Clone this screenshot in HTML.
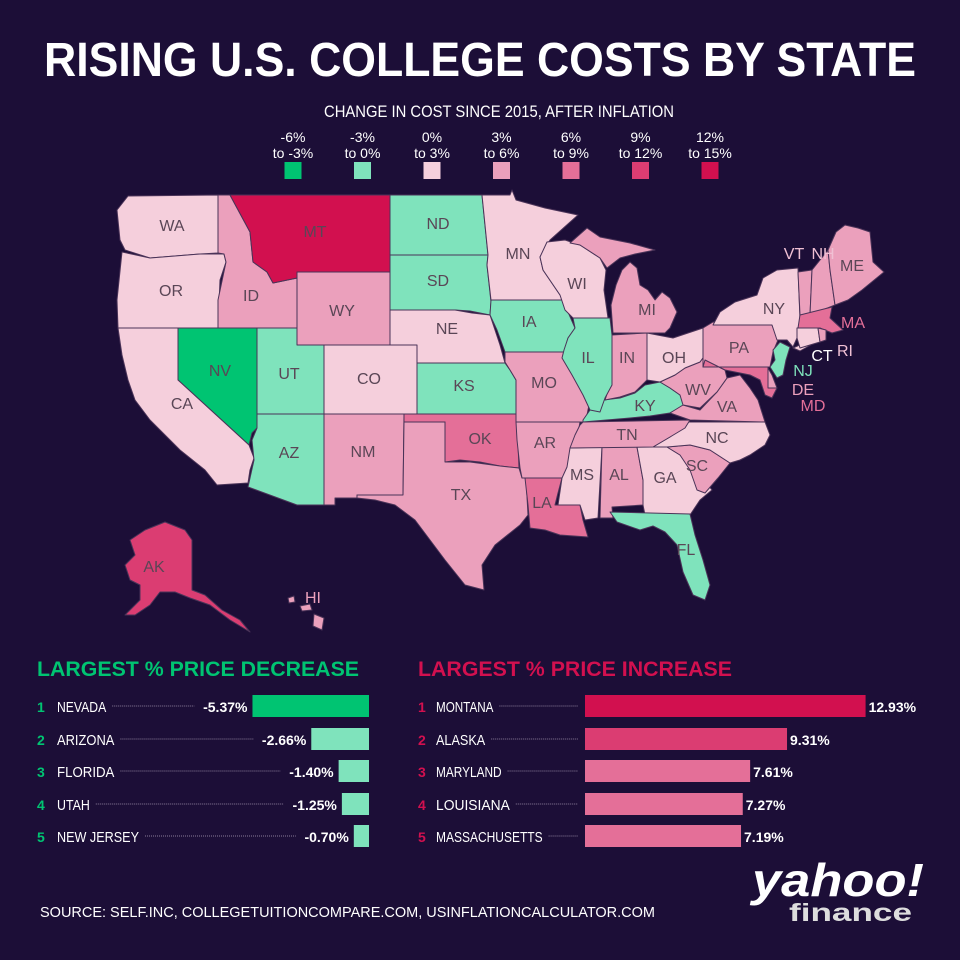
<!DOCTYPE html>
<html><head><meta charset="utf-8"><style>
html,body{margin:0;padding:0;background:#1c0e37;}
svg{display:block;font-family:"Liberation Sans",sans-serif;}
</style></head><body>
<svg id="chart" width="960" height="960" viewBox="0 0 960 960">
<rect width="960" height="960" fill="#1c0e37"/>
<text x="480" y="76" text-anchor="middle" fill="#fff" font-weight="bold" font-size="48" textLength="872" lengthAdjust="spacingAndGlyphs">RISING U.S. COLLEGE COSTS BY STATE</text>
<text x="499" y="117" text-anchor="middle" fill="#fff" font-size="17" textLength="350" lengthAdjust="spacingAndGlyphs">CHANGE IN COST SINCE 2015, AFTER INFLATION</text>
<g id="legend"></g>
<g id="map"></g>
<g id="labels"></g>
<text x="37" y="676" fill="#00c472" font-weight="bold" font-size="21" textLength="322" lengthAdjust="spacingAndGlyphs">LARGEST % PRICE DECREASE</text>
<text x="418" y="676" fill="#d2104f" font-weight="bold" font-size="21" textLength="314" lengthAdjust="spacingAndGlyphs">LARGEST % PRICE INCREASE</text>
<g id="bars"></g>
<text x="40" y="917" fill="#fff" font-size="15" textLength="615" lengthAdjust="spacingAndGlyphs">SOURCE:  SELF.INC, COLLEGETUITIONCOMPARE.COM, USINFLATIONCALCULATOR.COM</text>
<text x="752" y="896" fill="#fff" font-weight="bold" font-size="46" font-style="italic" textLength="172" lengthAdjust="spacingAndGlyphs">yahoo!</text>
<text x="789" y="921" fill="#ddd" font-weight="bold" font-size="25" textLength="123" lengthAdjust="spacingAndGlyphs">finance</text>
</svg>
<script>
const NS='http://www.w3.org/2000/svg';
const binColors=['#00c472','#7fe3bc','#f5cfdc','#eba0bc','#e46f98','#db3d72','#d2104f'];
const binLabels1=['-6%','-3%','0%','3%','6%','9%','12%'];
const binLabels2=['to -3%','to 0%','to 3%','to 6%','to 9%','to 12%','to 15%'];
const decNames=['NEVADA','ARIZONA','FLORIDA','UTAH','NEW JERSEY'];
const decValues=[-5.37,-2.66,-1.40,-1.25,-0.70];
const incNames=['MONTANA','ALASKA','MARYLAND','LOUISIANA','MASSACHUSETTS'];
const incValues=[12.93,9.31,7.61,7.27,7.19];
const stateCodes=['WA','OR','ID','MT','WY','NV','CA','UT','AZ','CO','NM','OK','TX','ND','SD','NE','KS','MN','IA','MO','AR','LA','MS','AL','GA','FL','SC','NC','TN','KY','VA','WV','OH','IN','IL','WI','MI','MIU','PA','NY','LI','NJ','DE','MD','VT','NH','ME','MA','CT','RI','AK','HI1','HI2','HI3'];
const stateBins=[2,2,3,6,3,0,2,1,1,2,3,4,3,1,1,2,1,2,1,3,3,4,2,3,2,1,3,2,3,1,3,3,2,3,1,2,3,3,3,2,2,1,3,4,3,3,3,4,2,3,5,3,3,3];
const shapes={
WA:'117,210 128,196 218,195 218,253 200,254 150,258 125,250 120,240',
OR:'122,252 150,258 200,254 224,254 226,262 220,280 218,328 118,328 117,300',
ID:'218,195 230,195 250,232 253,262 267,272 273,283 297,278 297,328 218,328 218,300 226,262 224,254 218,253',
MT:'230,195 390,195 390,272 297,272 297,278 273,283 267,272 253,262 250,232',
WY:'297,272 390,272 390,345 297,345',
NV:'178,328 257,328 257,428 252,433 249,445 178,380',
CA:'118,328 178,328 178,380 249,445 254,458 250,470 248,483 217,485 205,470 180,450 150,420 135,400 128,380 122,355',
UT:'257,328 297,328 297,345 324,345 324,414 257,414',
AZ:'257,414 324,414 324,505 297,505 248,487 254,460 252,440 257,428',
CO:'324,345 417,345 417,414 324,414',
NM:'324,414 404,414 403,495 357,495 358,498 335,498 335,505 324,505',
OK:'404,414 516,414 517,420 519,468 500,466 480,462 460,460 445,462 445,422 404,422',
TX:'404,422 445,422 445,462 470,462 500,466 519,468 522,478 526,478 528,515 520,525 495,545 482,565 484,590 465,585 445,560 430,540 415,520 395,505 375,500 357,498 357,495 403,495',
ND:'390,195 482,195 485,225 488,255 390,255',
SD:'390,255 488,255 487,265 491,302 490,315 470,311 455,310 390,310',
NE:'390,310 455,310 472,313 490,315 495,330 500,345 505,363 417,363 417,345 390,345',
KS:'417,363 505,363 510,370 516,380 516,414 417,414',
MN:'482,195 510,195 512,190 516,200 545,208 578,215 550,240 540,257 543,270 560,295 563,300 491,300 487,265 488,255 485,225',
IA:'491,300 563,300 568,312 575,328 568,338 564,352 505,352 497,330 490,315',
MO:'505,352 564,352 570,365 580,385 590,400 587,415 585,422 516,422 516,380 510,370 505,362',
AR:'516,422 580,422 577,440 572,450 568,467 565,478 522,478 520,468 517,440',
LA:'525,478 562,478 558,493 555,505 580,505 583,520 588,537 560,535 545,530 530,528 528,505',
MS:'570,448 602,447 598,518 585,520 580,505 558,505 562,478 567,467',
AL:'602,447 637,447 643,480 643,505 612,507 613,518 600,518',
GA:'637,447 667,447 680,455 700,475 712,490 700,500 690,515 680,517 645,515 643,505 643,480',
FL:'610,512 690,514 695,535 703,560 710,585 705,600 693,595 683,572 677,545 665,532 653,526 640,530 617,522',
SC:'667,447 690,445 710,450 730,463 718,478 705,493 697,490 690,470 680,455',
NC:'653,447 670,437 688,422 765,422 770,435 765,445 750,455 740,460 730,463 710,450 690,445 667,447',
TN:'583,422 690,420 685,428 670,437 653,447 570,448 575,435 580,425',
KY:'583,420 590,410 603,400 620,398 635,393 645,385 660,382 670,388 680,395 685,405 670,413 650,416 630,418 583,422',
VA:'683,405 700,410 717,392 727,378 740,375 750,388 758,400 765,422 690,420 670,413',
WV:'660,382 675,375 685,368 700,362 705,355 715,365 725,370 727,378 717,392 700,408 683,405 680,395 670,388',
OH:'647,333 673,338 685,334 703,328 705,355 700,362 685,368 675,375 660,382 647,380',
IN:'612,335 647,333 647,380 635,392 620,397 605,400 610,385 612,360',
IL:'573,318 610,318 612,335 612,385 605,398 600,412 590,410 583,395 572,375 562,358 564,350 568,338 575,328',
WI:'547,242 565,240 580,245 600,258 606,270 604,290 608,318 573,318 565,310 560,295 543,270 540,257',
MI:'613,333 611,305 616,285 622,270 630,262 637,268 640,285 648,290 655,300 662,292 670,298 677,312 670,328 665,333',
MIU:'570,243 587,228 600,237 630,243 655,250 635,254 620,258 607,268 600,258 580,245',
PA:'703,328 713,322 772,325 778,340 773,352 770,367 703,367',
NY:'713,325 720,312 735,302 757,295 763,278 777,270 798,268 800,320 797,338 793,347 787,340 777,340 772,325',
LI:'793,348 815,338 818,341 800,351',
NJ:'773,350 780,342 790,347 786,360 783,375 777,378 770,367 775,360',
DE:'768,368 772,375 777,388 768,388',
MD:'703,367 768,367 768,388 777,388 772,398 765,395 760,380 750,375 735,372 725,370 715,365 705,360',
VT:'798,272 812,270 810,315 800,315',
NH:'812,270 828,250 830,270 835,305 810,315',
ME:'828,250 836,232 845,225 858,228 870,232 873,262 884,272 862,290 848,300 835,305 830,270',
MA:'800,315 832,307 830,318 843,330 832,333 820,328 798,328',
CT:'797,328 818,328 820,342 800,348 797,338',
RI:'818,328 826,330 826,340 820,342',
AK:'165,522 185,530 192,540 192,590 205,595 222,610 240,620 250,632 230,620 210,605 190,598 175,592 160,592 150,605 135,615 125,615 140,600 140,585 130,580 125,565 135,555 130,540 145,530',
HI1:'288,598 294,596 295,602 289,603',
HI2:'300,606 310,604 312,610 302,611',
HI3:'314,614 324,618 322,630 313,626'
};
const labelCodes=['WA','OR','ID','MT','WY','NV','CA','UT','AZ','CO','NM','OK','TX','ND','SD','NE','KS','MN','IA','MO','AR','LA','MS','AL','GA','FL','SC','NC','TN','KY','VA','WV','OH','IN','IL','WI','MI','PA','NY','AK','VT','NH','ME','MA','RI','CT','NJ','DE','MD','HI'];
const labelXY=[[172,225],[171,290],[251,295],[315,231],[342,310],[220,370],[182,403],[289,373],[289,452],[369,378],[363,451],[480,438],[461,494],[438,223],[438,280],[447,328],[464,385],[518,253],[529,321],[544,382],[545,442],[542,502],[582,474],[619,474],[665,477],[686,549],[697,465],[717,437],[627,434],[645,405],[727,406],[698,389],[674,357],[627,357],[588,357],[577,283],[647,309],[739,347],[774,308],[154,566],[794,253],[823,253],[852,265],[853,322],[845,350],[822,355],[803,370],[803,389],[813,405],[313,597]];
const labelColors={VT:'#f0c0d4',NH:'#f0c0d4',MA:'#e46f98',RI:'#f0c0d4',CT:'#fff',NJ:'#7fe3bc',DE:'#eba0bc',MD:'#e46f98',HI:'#eba0bc'};
function el(tag,attrs,parent){const e=document.createElementNS(NS,tag);for(const k in attrs)e.setAttribute(k,attrs[k]);parent.appendChild(e);return e;}
const lg=document.getElementById('legend');
binColors.forEach((c,i)=>{
  const cx=293+i*69.5;
  const t1=el('text',{x:cx,y:142,'text-anchor':'middle',fill:'#fff','font-size':14},lg);t1.textContent=binLabels1[i];
  
  
  const t2=el('text',{x:cx,y:158,'text-anchor':'middle',fill:'#fff','font-size':14},lg);t2.textContent=binLabels2[i];
  
  
  const r=el('rect',{x:cx-8.5,y:162,width:17,height:17,fill:c},lg);
  
  
});
const mp=document.getElementById('map');
stateCodes.forEach((s,i)=>{
  const p=el('polygon',{points:shapes[s],fill:binColors[stateBins[i]],stroke:'#4a3358','stroke-width':1,'stroke-linejoin':'round'},mp);
  
  
});
const lb=document.getElementById('labels');
labelCodes.forEach((s,i)=>{
  const t=el('text',{x:labelXY[i][0],y:labelXY[i][1]+6,'text-anchor':'middle',fill:labelColors[s]||'#5a4656','font-size':16},lb);
  t.textContent=s;
  
  
});
const bg=document.getElementById('bars');
const scale=21.7, rowY=[706,739,771,804,836], barH=22;
function bx(v){return Math.abs(v)*scale;}
decNames.forEach((n,i)=>{
  const y=rowY[i], w=bx(decValues[i]), x0=369-w;
  const num=el('text',{x:37,y:y+6,fill:'#00c472','font-weight':'bold','font-size':14},bg);num.textContent=i+1;
  
  
  const nw=n.length*8.2;
  const nm=el('text',{x:57,y:y+6,fill:'#fff','font-size':15,textLength:nw,lengthAdjust:'spacingAndGlyphs'},bg);nm.textContent=n;
  
  
  const val=el('text',{x:x0-5,y:y+6,fill:'#fff','font-weight':'bold','font-size':14,'text-anchor':'end'},bg);val.textContent=decValues[i].toFixed(2)+'%';
  
  
  const ln=el('line',{x1:57+nw+6,x2:x0-58,y1:y,y2:y,stroke:'#8a7c9a','stroke-width':1,'stroke-dasharray':'1 1'},bg);
  
  
  const r=el('rect',{x:x0,y:y-barH/2,width:w,height:barH,fill:i==0?binColors[0]:binColors[1]},bg);
  
  
});
incNames.forEach((n,i)=>{
  const y=rowY[i], w=bx(incValues[i]), x0=585;
  const c=incValues[i]>=12?binColors[6]:incValues[i]>=9?binColors[5]:binColors[4];
  const num=el('text',{x:418,y:y+6,fill:'#d2104f','font-weight':'bold','font-size':14},bg);num.textContent=i+1;
  
  
  const nw=n.length*8.2;
  const nm=el('text',{x:436,y:y+6,fill:'#fff','font-size':15,textLength:nw,lengthAdjust:'spacingAndGlyphs'},bg);nm.textContent=n;
  
  
  const ln=el('line',{x1:436+nw+6,x2:578,y1:y,y2:y,stroke:'#8a7c9a','stroke-width':1,'stroke-dasharray':'1 1'},bg);
  
  
  const r=el('rect',{x:x0,y:y-barH/2,width:w,height:barH,fill:c},bg);
  
  
  const val=el('text',{x:x0+w+3,y:y+6,fill:'#fff','font-weight':'bold','font-size':14},bg);val.textContent=incValues[i].toFixed(2)+'%';
  
  
});
</script>
</body></html>
